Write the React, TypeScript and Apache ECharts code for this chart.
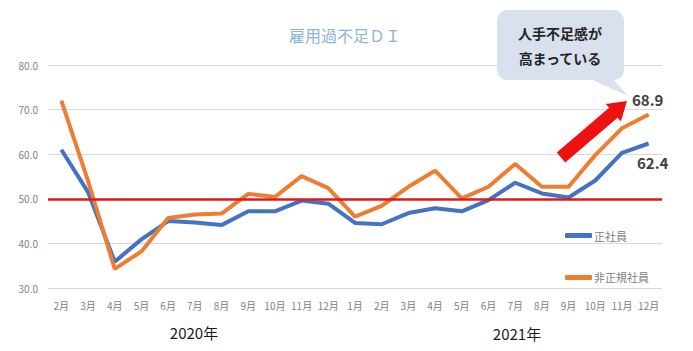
import React, { useEffect, useRef } from "react";
import * as echarts from "echarts";

const months = ["2月", "3月", "4月", "5月", "6月", "7月", "8月", "9月", "10月", "11月", "12月", "1月", "2月", "3月", "4月", "5月", "6月", "7月", "8月", "9月", "10月", "11月", "12月"];
const seishain = [61.0, 51.5, 35.9, 40.9, 45.0, 44.7, 44.1, 47.2, 47.2, 49.6, 48.9, 44.6, 44.3, 46.8, 47.9, 47.2, 49.7, 53.6, 51.2, 50.3, 54.1, 60.3, 62.4];
const hiseiki = [72.0, 54.0, 34.3, 38.2, 45.7, 46.5, 46.7, 51.1, 50.4, 55.1, 52.4, 46.0, 48.4, 52.7, 56.3, 50.1, 52.7, 57.8, 52.7, 52.7, 59.8, 65.8, 68.9];
const yTicks = { min: 30, max: 80, interval: 10 };
const threshold = 50;
const years = ["2020年", "2021年"];
const calloutLines = ["人手不足感が", "高まっている"];
const seriesNames = ["正社員", "非正規社員"];

const FONT = "'Noto Sans CJK JP', 'Noto Sans', sans-serif";

function arrowPoints(tx: number, ty: number, px: number, py: number, shaftHalf: number, headHalf: number, headLen: number) {
  const dx = px - tx, dy = py - ty;
  const L = Math.sqrt(dx * dx + dy * dy);
  const ux = dx / L, uy = dy / L;
  const nx = -uy, ny = ux;
  const bx = px - ux * headLen, by = py - uy * headLen;
  return [
    [tx + nx * shaftHalf, ty + ny * shaftHalf],
    [bx + nx * shaftHalf, by + ny * shaftHalf],
    [bx + nx * headHalf, by + ny * headHalf],
    [px, py],
    [bx - nx * headHalf, by - ny * headHalf],
    [bx - nx * shaftHalf, by - ny * shaftHalf],
    [tx - nx * shaftHalf, ty - ny * shaftHalf],
  ];
}

export default function App() {
  const ref = useRef<HTMLDivElement>(null);
  useEffect(() => {
    if (!ref.current) return;
    const chart = echarts.init(ref.current, null, { renderer: "svg" });
    const last = months.length - 1;
    chart.setOption({
      animation: false,
      backgroundColor: "#ffffff",
      textStyle: { fontFamily: FONT },
      title: {
        text: "雇用過不足ＤＩ",
        left: 340,
        top: 22,
        textAlign: "center",
        textStyle: { color: "#8DB3D9", fontSize: 16, fontWeight: "normal", fontFamily: FONT },
      },
      grid: { left: 48, right: 31, top: 65, bottom: 63, containLabel: false },
      legend: {
        orient: "vertical",
        left: 560,
        top: 225,
        itemGap: 31,
        icon: "roundRect",
        itemWidth: 27,
        itemHeight: 5,
        textStyle: { color: "#808080", fontSize: 11, fontFamily: FONT, padding: [0, 0, 0, -3] },
        data: seriesNames,
      },
      xAxis: {
        type: "category",
        data: months,
        boundaryGap: true,
        axisLine: { show: false },
        axisTick: { show: false },
        axisLabel: { color: "#808080", fontSize: 10, margin: 12, interval: 0, fontFamily: FONT },
      },
      yAxis: {
        type: "value",
        min: yTicks.min,
        max: yTicks.max,
        interval: yTicks.interval,
        axisLine: { show: false },
        axisTick: { show: false },
        axisLabel: { color: "#7F7F7F", fontSize: 10, margin: 10, formatter: (v: number) => v.toFixed(1), fontFamily: FONT },
        splitLine: { lineStyle: { color: "#D9D9D9", width: 1 } },
      },
      series: [
        {
          name: seriesNames[0],
          type: "line",
          data: seishain,
          symbol: "none",
          lineStyle: { color: "#4472C4", width: 4 },
          itemStyle: { color: "#4472C4" },
          z: 3,
          markPoint: {
            symbol: "circle",
            symbolSize: 0,
            data: [{ coord: [last, seishain[last]], value: seishain[last] }],
            label: {
              show: true,
              position: "bottom",
              distance: 11,
              offset: [4, 0],
              formatter: (p: any) => Number(p.value).toFixed(1),
              color: "#404040",
              fontSize: 15,
              fontWeight: "bold",
              fontFamily: FONT,
            },
          },
          markLine: {
            silent: true,
            symbol: "none",
            label: { show: false },
            lineStyle: { color: "#E3171B", width: 2.5, type: "solid" },
            data: [{ yAxis: threshold }],
            z: 5,
          },
        },
        {
          name: seriesNames[1],
          type: "line",
          data: hiseiki,
          symbol: "none",
          lineStyle: { color: "#ED7D31", width: 4 },
          itemStyle: { color: "#ED7D31" },
          z: 4,
          markPoint: {
            symbol: "circle",
            symbolSize: 0,
            data: [{ coord: [last, hiseiki[last]], value: hiseiki[last] }],
            label: {
              show: true,
              position: "top",
              distance: 8,
              offset: [-1, 0],
              formatter: (p: any) => Number(p.value).toFixed(1),
              color: "#404040",
              fontSize: 15,
              fontWeight: "bold",
              fontFamily: FONT,
            },
          },
        },
      ],
      graphic: [
        {
          type: "polygon",
          shape: { points: arrowPoints(561, 157.5, 627, 101, 6.5, 11.5, 18) },
          style: { fill: "#EE1111" },
          z: 20,
        },
        {
          type: "rect",
          shape: { x: 497, y: 10, width: 127, height: 70, r: 10 },
          style: { fill: "#D9E1EE" },
          z: 20,
        },
        {
          type: "polygon",
          shape: { points: [[588, 78], [612, 78], [628, 96]] },
          style: { fill: "#D9E1EE" },
          z: 20,
        },
        {
          type: "text",
          x: 560,
          y: 33,
          style: { text: calloutLines[0], fill: "#262626", font: `bold 14px ${FONT}`, textAlign: "center", textVerticalAlign: "middle" },
          z: 21,
        },
        {
          type: "text",
          x: 560,
          y: 58,
          style: { text: calloutLines[1], fill: "#262626", font: `bold 14px ${FONT}`, textAlign: "center", textVerticalAlign: "middle" },
          z: 21,
        },
        {
          type: "text",
          x: 194,
          y: 332,
          style: { text: years[0], fill: "#1a1a1a", font: `15px ${FONT}`, textAlign: "center", textVerticalAlign: "middle" },
        },
        {
          type: "text",
          x: 517,
          y: 333,
          style: { text: years[1], fill: "#1a1a1a", font: `15px ${FONT}`, textAlign: "center", textVerticalAlign: "middle" },
        },
      ],
    });
    return () => chart.dispose();
  }, []);
  return <div ref={ref} style={{ width: 693, height: 351, position: "absolute", left: 0, top: 0 }} />;
}
